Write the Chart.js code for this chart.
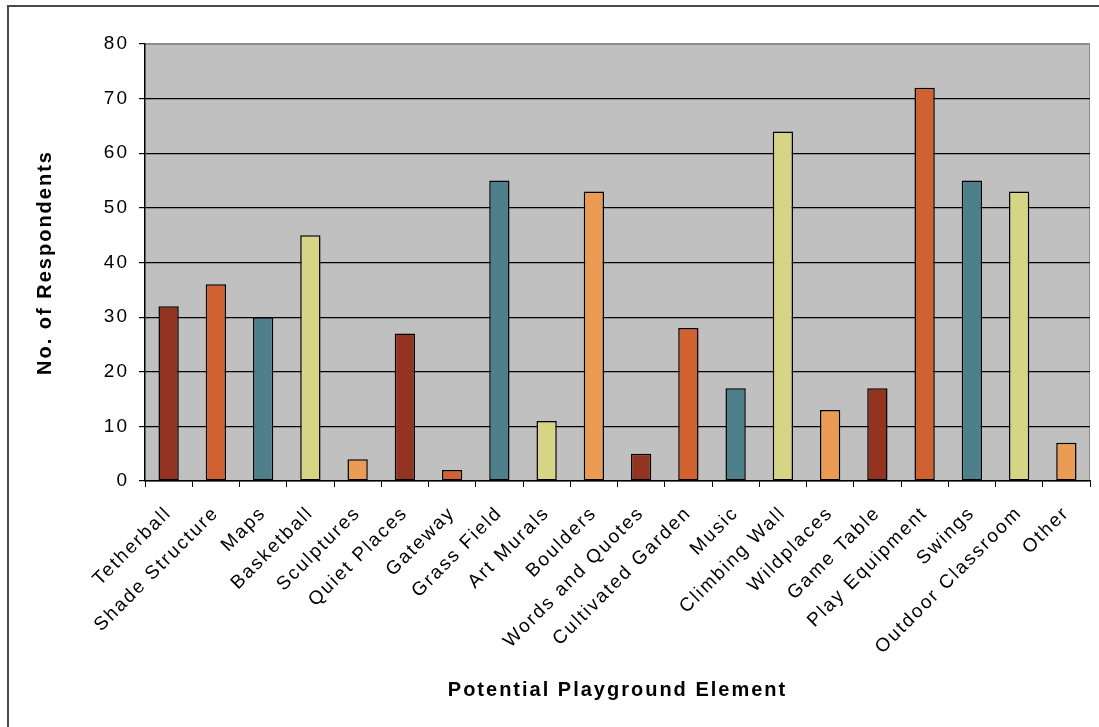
<!DOCTYPE html>
<html>
<head>
<meta charset="utf-8">
<script src="https://cdn.jsdelivr.net/npm/chart.js@4"></script>
<style>
    html, body { margin: 0; padding: 0; background: #fff; }
    #wrap { width: 1099px; height: 727px; }
</style>
</head>
<body>
<div id="wrap"><canvas id="playgroundChart" width="1099" height="727"></canvas></div>
<script>
const categories = [
    'Tetherball', 'Shade Structure', 'Maps', 'Basketball', 'Sculptures',
    'Quiet Places', 'Gateway', 'Grass Field', 'Art Murals', 'Boulders',
    'Words and Quotes', 'Cultivated Garden', 'Music', 'Climbing Wall', 'Wildplaces',
    'Game Table', 'Play Equipment', 'Swings', 'Outdoor Classroom', 'Other'
];
const respondents = [32, 36, 30, 45, 4, 27, 2, 55, 11, 53, 5, 28, 17, 64, 13, 17, 72, 55, 53, 7];
const palette = ['#933321', '#d06130', '#4e808c', '#d6d586', '#eb9c54'];
const yTicks = [0, 10, 20, 30, 40, 50, 60, 70, 80];

const FONT = '"Liberation Sans", Arial, sans-serif';
const SPACING = '2px';

// old Excel-style wide tracking + plot background / frame
const excelLook = {
    id: 'excelLook',
    beforeLayout(chart) { chart.ctx.letterSpacing = SPACING; },
    beforeDraw(chart) {
        const ctx = chart.ctx;
        const a = chart.chartArea;
        ctx.save();
        ctx.fillStyle = '#c0c0c0';
        ctx.fillRect(a.left, a.top, a.right - a.left, a.bottom - a.top);
        ctx.strokeStyle = '#8c8c8c';
        ctx.lineWidth = 1;
        ctx.beginPath();
        ctx.moveTo(a.left, a.top + 0.5);
        ctx.lineTo(a.right - 0.5, a.top + 0.5);
        ctx.lineTo(a.right - 0.5, a.bottom);
        ctx.stroke();
        ctx.strokeStyle = '#4a4a4a';
        ctx.lineWidth = 2;
        ctx.strokeRect(8, 6, 1300, 1000);
        ctx.restore();
        ctx.letterSpacing = SPACING;
    }
};

new Chart(document.getElementById('playgroundChart').getContext('2d'), {
    type: 'bar',
    data: {
        labels: categories,
        datasets: [{
            data: respondents,
            backgroundColor: categories.map((c, i) => palette[i % palette.length]),
            borderColor: '#000',
            borderWidth: 1.5,
            borderSkipped: false,
            barPercentage: 0.43,
            categoryPercentage: 1
        }]
    },
    options: {
        responsive: false,
        animation: false,
        layout: { padding: { top: 44, right: 9, left: 0, bottom: 0 } },
        plugins: {
            legend: { display: false },
            tooltip: { enabled: false }
        },
        scales: {
            x: {
                afterFit(s) { s.height = 246; },
                grid: { drawOnChartArea: false, tickLength: 6, tickColor: '#000', offset: true },
                border: { color: '#000', width: 1.5 },
                ticks: {
                    autoSkip: false, maxRotation: 45, minRotation: 45,
                    color: '#000', padding: 15,
                    font: { family: FONT, size: 19 }
                },
                title: {
                    display: true, text: 'Potential Playground Element', color: '#000',
                    font: { family: FONT, size: 20, weight: 'bold' },
                    padding: { top: 0, bottom: 25 }
                }
            },
            y: {
                min: 0, max: 80,
                afterFit(s) { s.width = 145; },
                afterBuildTicks(s) { s.ticks = yTicks.map(v => ({ value: v })); },
                grid: {
                    color: c => c.tick && c.tick.value === 80 ? '#8c8c8c' : '#000',
                    tickColor: '#000', tickLength: 6, lineWidth: 1.2
                },
                border: { color: '#000', width: 1.5 },
                ticks: {
                    color: '#000', padding: 10,
                    font: { family: FONT, size: 19 }
                },
                title: {
                    display: true, text: 'No. of Respondents', color: '#000',
                    font: { family: FONT, size: 20, weight: 'bold' },
                    padding: { top: 33, bottom: 0 }
                }
            }
        }
    },
    plugins: [excelLook]
});
</script>
</body>
</html>
